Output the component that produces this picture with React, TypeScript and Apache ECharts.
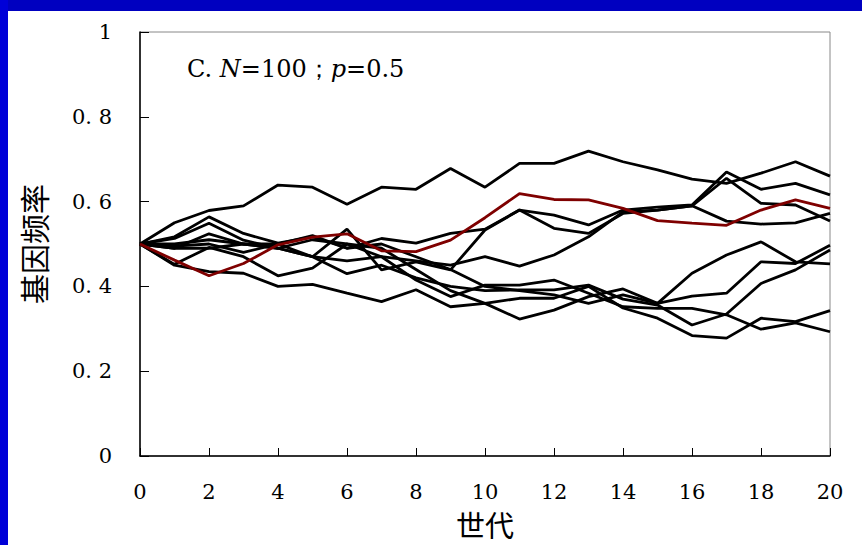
import React, { useEffect, useRef } from "react";
import * as echarts from "echarts";

// Generations 0–20
const generations = [0, 1, 2, 3, 4, 5, 6, 7, 8, 9, 10, 11, 12, 13, 14, 15, 16, 17, 18, 19, 20];

// Allele-frequency trajectories (N = 100, p0 = 0.5)
const runA = [0.5, 0.55, 0.579, 0.59, 0.639, 0.634, 0.594, 0.634, 0.629, 0.678, 0.634, 0.69, 0.69, 0.719, 0.694, 0.675, 0.653, 0.643, 0.667, 0.694, 0.66];
const runB = [0.5, 0.517, 0.564, 0.525, 0.502, 0.517, 0.49, 0.513, 0.502, 0.525, 0.535, 0.58, 0.568, 0.545, 0.58, 0.587, 0.592, 0.67, 0.629, 0.643, 0.616];
const runC = [0.5, 0.513, 0.549, 0.509, 0.49, 0.47, 0.535, 0.439, 0.458, 0.439, 0.533, 0.58, 0.537, 0.525, 0.572, 0.58, 0.59, 0.655, 0.596, 0.592, 0.554];
const runE = [0.5, 0.49, 0.524, 0.5, 0.49, 0.51, 0.5, 0.47, 0.46, 0.45, 0.47, 0.448, 0.474, 0.517, 0.576, 0.58, 0.59, 0.554, 0.547, 0.55, 0.572];
const runF = [0.5, 0.495, 0.5, 0.48, 0.5, 0.52, 0.49, 0.5, 0.47, 0.44, 0.4, 0.39, 0.38, 0.36, 0.38, 0.36, 0.431, 0.474, 0.505, 0.458, 0.453];
const runG = [0.5, 0.452, 0.492, 0.47, 0.425, 0.443, 0.5, 0.49, 0.44, 0.39, 0.36, 0.323, 0.344, 0.376, 0.394, 0.36, 0.377, 0.384, 0.458, 0.454, 0.497];
const runH = [0.5, 0.5, 0.51, 0.5, 0.5, 0.47, 0.43, 0.45, 0.42, 0.4, 0.39, 0.392, 0.392, 0.403, 0.37, 0.356, 0.309, 0.335, 0.407, 0.439, 0.486];
const runI = [0.5, 0.45, 0.435, 0.431, 0.4, 0.405, 0.384, 0.364, 0.392, 0.352, 0.36, 0.372, 0.372, 0.4, 0.349, 0.325, 0.284, 0.278, 0.325, 0.317, 0.343];
const runJ = [0.5, 0.49, 0.49, 0.5, 0.49, 0.47, 0.46, 0.47, 0.415, 0.376, 0.403, 0.403, 0.415, 0.384, 0.352, 0.348, 0.348, 0.333, 0.299, 0.314, 0.293];
const runRed = [0.5, 0.462, 0.425, 0.454, 0.498, 0.516, 0.524, 0.484, 0.482, 0.509, 0.562, 0.619, 0.605, 0.604, 0.584, 0.555, 0.549, 0.544, 0.58, 0.604, 0.584];

const blackRuns = [runA, runB, runC, runE, runF, runG, runH, runI, runJ];

// Tick labels of the frequency axis
const yTickValues = [0, 0.2, 0.4, 0.6, 0.8, 1];
const yTickLabels = ["0", "0. 2", "0. 4", "0. 6", "0. 8", "1"];

const NUM_FONT = "'DejaVu Serif', 'Liberation Serif', serif";
const CJK_FONT = "'Noto Sans CJK SC', sans-serif";

function toPoints(values: number[]) {
  return values.map((v, i) => [generations[i], v]);
}

export default function App() {
  const ref = useRef<HTMLDivElement>(null);

  useEffect(() => {
    if (!ref.current) return;
    const chart = echarts.init(ref.current, null, { renderer: "svg" });

    const series: any[] = blackRuns.map((run) => ({
      type: "line",
      data: toPoints(run),
      showSymbol: false,
      lineStyle: { color: "#000000", width: 2.8 },
      z: 2,
    }));
    series.push({
      type: "line",
      data: toPoints(runRed),
      showSymbol: false,
      lineStyle: { color: "#7f0000", width: 2.8 },
      z: 3,
    });

    chart.setOption({
      animation: false,
      backgroundColor: "#ffffff",
      grid: {
        left: 140,
        right: 32,
        top: 32,
        bottom: 89,
        show: true,
        borderColor: "#888888",
        borderWidth: 1,
      },
      xAxis: {
        type: "value",
        min: 0,
        max: 20,
        interval: 2,
        name: "世代",
        nameLocation: "middle",
        nameGap: 53,
        nameTextStyle: { fontFamily: CJK_FONT, fontSize: 29, color: "#000" },
        axisLine: { show: true, lineStyle: { color: "#000", width: 1.5 } },
        axisTick: { show: true, inside: true, length: 8, lineStyle: { color: "#000", width: 1 } },
        axisLabel: { margin: 25, fontFamily: NUM_FONT, fontSize: 21, color: "#000" },
        splitLine: { show: false },
      },
      yAxis: {
        type: "value",
        min: 0,
        max: 1,
        interval: 0.2,
        name: "基因频率",
        nameLocation: "middle",
        nameGap: 92,
        nameRotate: 90,
        nameTextStyle: { fontFamily: CJK_FONT, fontSize: 30, color: "#000" },
        axisLine: { show: true, lineStyle: { color: "#000", width: 1.5 } },
        axisTick: { show: true, inside: true, length: 9, lineStyle: { color: "#000", width: 1 } },
        axisLabel: {
          margin: 28,
          fontFamily: NUM_FONT,
          fontSize: 21,
          color: "#000",
          formatter: (v: number) => {
            const idx = yTickValues.findIndex((t) => Math.abs(t - v) < 1e-6);
            return idx >= 0 ? yTickLabels[idx] : "";
          },
        },
        splitLine: { show: false },
      },
      graphic: [
        { type: "rect", shape: { x: 0, y: 0, width: 862, height: 11 }, style: { fill: "#0000c0" }, z: 10 },
        { type: "rect", shape: { x: 0, y: 0, width: 8, height: 545 }, style: { fill: "#0000d8" }, z: 10 },
        {
          type: "text",
          left: 187,
          top: 57,
          z: 10,
          style: {
            text: "{n|C. }{i|N}{n|=100；}{i|p}{n|=0.5}",
            rich: {
              n: { fontFamily: NUM_FONT, fontSize: 24, fill: "#000" },
              i: { fontFamily: NUM_FONT, fontSize: 24, fontStyle: "italic", fill: "#000" },
            },
          },
        },
      ],
      series,
    });

    return () => chart.dispose();
  }, []);

  return (
    <div
      ref={ref}
      style={{ position: "absolute", left: 0, top: 0, width: 862, height: 545, background: "#fff" }}
    />
  );
}
